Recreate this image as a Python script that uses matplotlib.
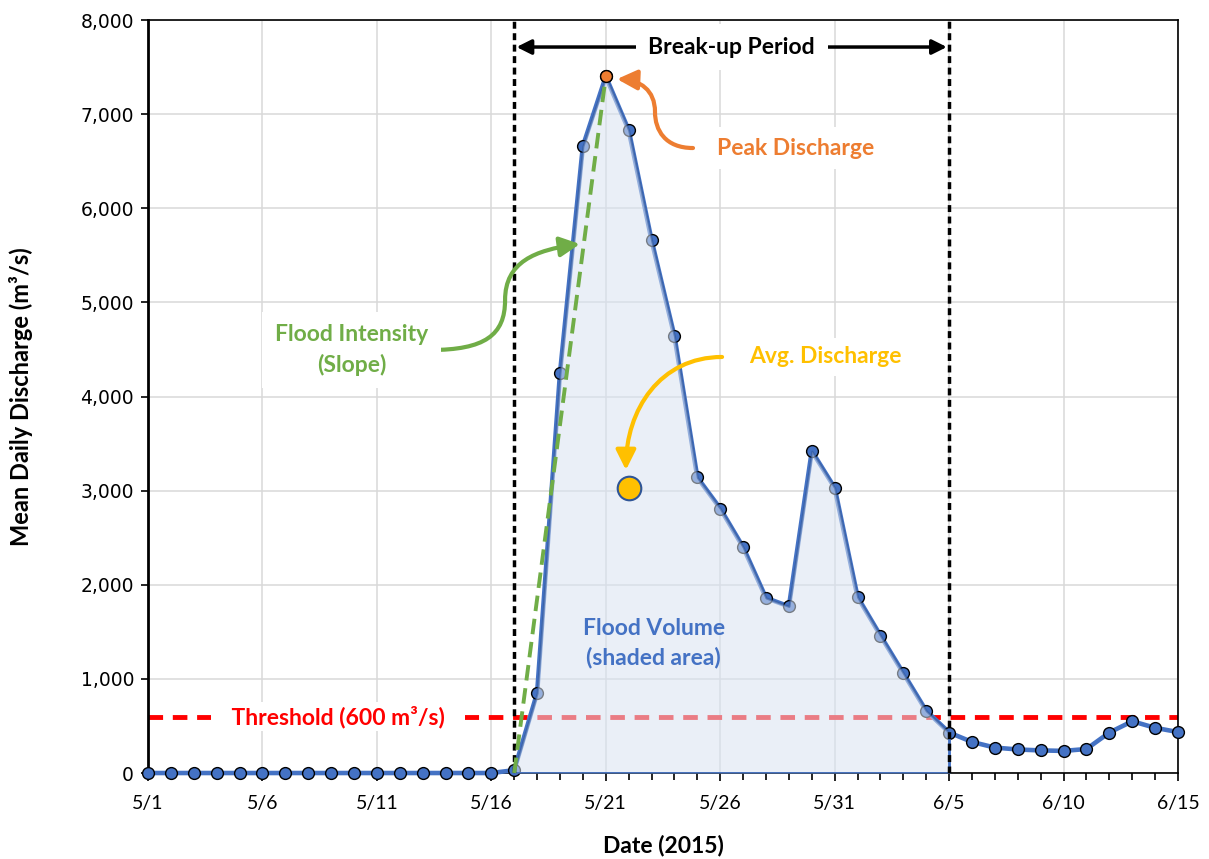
import numpy as np
import pandas as pd
import matplotlib
matplotlib.use("Agg")
import matplotlib.pyplot as plt
import matplotlib.dates as mdates
from matplotlib.path import Path
from matplotlib.patches import FancyArrowPatch
from matplotlib.ticker import FixedLocator, FuncFormatter

# daily mean discharge, 5/1/2015 - 6/15/2015
dates = pd.date_range("2015-05-01", "2015-06-15", freq="D")
discharge = [0, 0, 0, 0, 0, 0, 0, 0, 0, 0, 0, 0, 0, 0, 0, 0,
             30, 850, 4250, 6660, 7400, 6830, 5660, 4640, 3140, 2810,
             2400, 1860, 1770, 3420, 3030, 1870, 1460, 1060, 660, 430,
             330, 270, 250, 240, 235, 255, 430, 550, 480, 435]
discharge = np.array(discharge)

threshold = 600
breakup_start = pd.Timestamp("2015-05-17")
breakup_end = pd.Timestamp("2015-06-05")
peak_date = pd.Timestamp("2015-05-21")
peak_value = 7400
avg_date = pd.Timestamp("2015-05-22")
avg_value = 3030

blue = "#4472C4"
orange = "#ED7D31"
green = "#70AD47"
gold = "#FFC000"

plt.rcParams['font.family'] = ['Lato', 'DejaVu Sans']

fig = plt.figure(figsize=(12.09, 8.59), dpi=100)
ax = fig.add_axes([0.1224, 0.1001, 0.852, 0.8766])

x = mdates.date2num(dates)
x0 = mdates.date2num(breakup_start)
x1 = mdates.date2num(breakup_end)
xp = mdates.date2num(peak_date)

# grid
ax.grid(True, which="major", color="#D9D9D9", lw=1.1, zorder=0)
ax.set_axisbelow(True)

# threshold
ax.axhline(threshold, color="red", lw=3.5, ls=(0, (3, 2)), zorder=2.5)

# series
ax.plot(x, discharge, color=blue, lw=3.3, marker="o", ms=8.5, mfc=blue,
        mec="black", mew=1, zorder=3, clip_on=False)

# shaded flood volume
inside = (x >= x0) & (x <= x1)
ax.fill_between(x[inside], 0, discharge[inside], facecolor=(0.85, 0.89, 0.95),
                edgecolor="#2F5597", lw=1.5, alpha=0.55, zorder=4)
ax.plot([x0, x1, x1], [0, 0, discharge[inside][-1]], color=blue, lw=2, zorder=4)

# break-up period bounds
for xv in (x0, x1):
    ax.axvline(xv, color="black", lw=2.5, ls=(0, (2, 1.3)), zorder=5)

# slope line
ax.plot([x0, xp], [0, peak_value], color=green, lw=2.8, ls=(0, (4, 2)), zorder=5)

# peak & average markers
ax.plot(xp, peak_value, "o", ms=8.5, mfc=orange, mec="black", mew=1, zorder=6)
ax.plot(mdates.date2num(avg_date), avg_value, "o", ms=17, mfc=gold,
        mec="#2F5597", mew=1.5, zorder=6)

# break-up period arrow
ax.annotate("", xy=(x0 + 0.1, 7713), xytext=(x1 - 0.1, 7713),
            arrowprops=dict(arrowstyle="<|-|>", color="black", lw=2.5,
                            mutation_scale=22, shrinkA=0, shrinkB=0), zorder=6)
ax.text((x0 + x1) / 2, 7713, "Break-up Period", ha="center", va="center",
        fontsize=16.5, fontweight="bold", color="black", zorder=7,
        bbox=dict(boxstyle="square,pad=0.55", fc="white", ec="none"))

xs = x[0]


def curve(pts, color):
    verts = [(xs + a, b) for a, b in pts]
    codes = [Path.MOVETO] + [Path.CURVE4] * (len(verts) - 1)
    arr = FancyArrowPatch(path=Path(verts, codes), arrowstyle="-|>",
                          color=color, lw=3, mutation_scale=30, zorder=7)
    ax.add_patch(arr)


# annotation arrows (day offset from 5/1, discharge)
curve([(12.32, 4494), (14.72, 4494), (15.6, 4653), (15.6, 5025),
       (15.6, 5429), (16.91, 5556), (18.87, 5620)], green)
curve([(23.81, 6640), (22.59, 6640), (22.15, 6831), (22.15, 7023),
       (22.15, 7256), (21.5, 7362), (20.49, 7373)], orange)
curve([(25.08, 4420), (22.37, 4420), (20.88, 3857), (20.88, 3219)], gold)

ax.text(xs + 28.3, 6640, "Peak Discharge", ha="center", va="center",
        fontsize=16.5, fontweight="bold", color=orange, zorder=7,
        bbox=dict(boxstyle="square,pad=0.45", fc="white", ec="none"))
ax.text(xs + 8.9, 4495, "Flood Intensity\n(Slope)", ha="center", va="center",
        fontsize=16.5, fontweight="bold", color=green, zorder=7, linespacing=1.45,
        bbox=dict(boxstyle="square,pad=0.55", fc="white", ec="none"))
ax.text(xs + 29.6, 4420, "Avg. Discharge", ha="center", va="center",
        fontsize=16.5, fontweight="bold", color=gold, zorder=7,
        bbox=dict(boxstyle="square,pad=0.35", fc="white", ec="none"))
ax.text(xs + 22.1, 1381, "Flood Volume\n(shaded area)", ha="center", va="center",
        fontsize=16.5, fontweight="bold", color=blue, zorder=7, linespacing=1.45)
ax.text(xs + 8.3, threshold, "   Threshold (600 m³/s)   ", ha="center", va="center",
        fontsize=16.5, fontweight="bold", color="red", zorder=7,
        bbox=dict(boxstyle="square,pad=0.15", fc="white", ec="none"))

# axes
ax.set_xlim(x[0], x[-1])
ax.set_ylim(0, 8000)
ax.xaxis.set_major_locator(FixedLocator(x[::5]))
ax.xaxis.set_major_formatter(FuncFormatter(
    lambda v, p: f"{mdates.num2date(v).month}/{mdates.num2date(v).day}"))
ax.xaxis.set_minor_locator(FixedLocator(x))
ax.set_yticks(np.arange(0, 8001, 1000))
ax.yaxis.set_major_formatter(FuncFormatter(lambda v, p: f"{int(v):,}"))
ax.tick_params(axis="x", which="major", length=6, width=1.2, labelsize=14, pad=10)
ax.tick_params(axis="x", which="minor", length=5, width=1.2)
ax.tick_params(axis="y", length=5, width=1.2, labelsize=13.5, pad=5)
for lab in ax.get_yticklabels():
    lab.set_family("DejaVu Sans")

for s in ax.spines.values():
    s.set_color("black")
    s.set_linewidth(1.2)
ax.spines["left"].set_linewidth(2)

ax.set_xlabel("Date (2015)", fontsize=16.5, fontweight="bold")
ax.xaxis.set_label_coords(0.5, -0.082)
ax.set_ylabel("Mean Daily Discharge (m³/s)", fontsize=17, fontweight="bold")
ax.yaxis.set_label_coords(-0.112, 0.5)

fig.savefig("out.png", dpi=100)
